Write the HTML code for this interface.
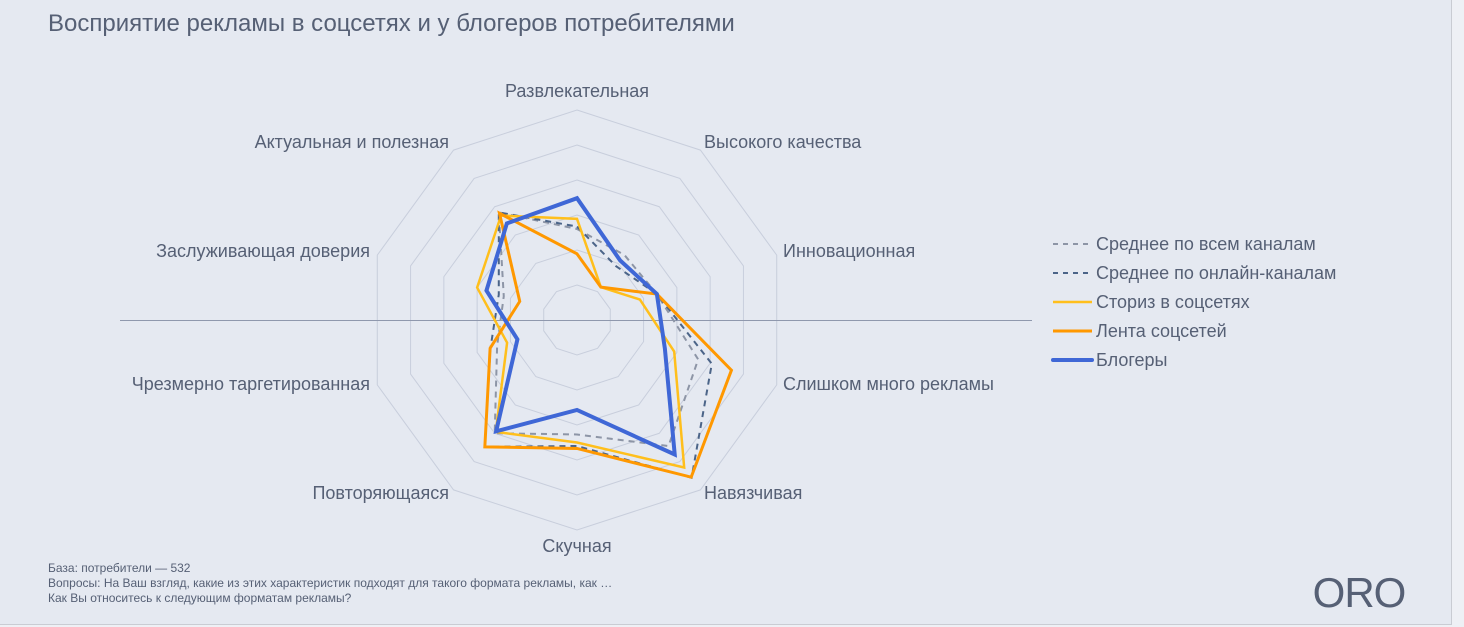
<!DOCTYPE html>
<html><head><meta charset="utf-8"><style>
html,body{margin:0;padding:0;}
body{width:1464px;height:627px;background:#eef0f5;font-family:"Liberation Sans",sans-serif;overflow:hidden;position:relative;}
#panel{position:absolute;left:0;top:0;width:1451px;height:624px;background:#e5e9f1;border-right:1px solid #c9ccd3;border-bottom:1px solid #c9ccd3;}
</style></head><body>
<div id="panel">
<svg id="chart" width="1464" height="627" style="position:absolute;left:0;top:0">
<text x="48" y="31" font-size="24" fill="#566075">Восприятие рекламы в соцсетях и у блогеров потребителями</text>
<g id="grid"></g>
<line x1="120" y1="320.5" x2="1032" y2="320.5" stroke="#8f98ad" stroke-width="1"/>
<g id="series"></g>
<g id="labels"></g>
<g id="legend"></g>
<text x="48" y="572" font-size="12" fill="#566075">База: потребители — 532</text>
<text x="48" y="587" font-size="12" fill="#566075">Вопросы: На Ваш взгляд, какие из этих характеристик подходят для такого формата рекламы, как …</text>
<text x="48" y="602" font-size="12" fill="#566075">Как Вы относитесь к следующим форматам рекламы?</text>
<text x="1359" y="607" font-size="42" fill="#566075" text-anchor="middle" letter-spacing="-1">ORO</text>
</svg>
</div>
<script>
const categories=["Развлекательная","Высокого качества","Инновационная","Слишком много рекламы","Навязчивая","Скучная","Повторяющаяся","Чрезмерно таргетированная","Заслуживающая доверия","Актуальная и полезная"];
const seriesNames=["Среднее по всем каналам","Среднее по онлайн-каналам","Сториз в соцсетях","Лента соцсетей","Блогеры"];
const avgAll=[26,23,24,36.4,44.5,32.7,40,24,22,38];
const avgOnline=[26.7,19,24,40.5,55.7,36,44.8,26,23.5,38];
const stories=[28.9,11.6,18.9,29.2,52.1,35,39.5,21,30,36.9];
const feed=[18.9,11.6,24,46.4,55.5,36.7,44.8,26.1,17.2,37.7];
const bloggers=[34.8,21,24,26.4,47.5,25.7,39.3,17.9,27.2,34.1];
const ringValues=[10,20,30,40,50,60];
const cx=577,cy=320,scale=3.5;
const NS="http://www.w3.org/2000/svg";
function pt(i,v){const a=i*2*Math.PI/categories.length;return [cx+Math.sin(a)*v*scale,cy-Math.cos(a)*v*scale];}
function mk(t,attrs,parent){const e=document.createElementNS(NS,t);for(const k in attrs)e.setAttribute(k,attrs[k]);parent.appendChild(e);return e;}
const grid=document.getElementById('grid');
ringValues.forEach(r=>{
  const p=categories.map((c,i)=>pt(i,r).join(',')).join(' ');
  const e=mk('polygon',{points:p,fill:'none',stroke:'#c8cedc','stroke-width':1},grid);
  
  
});
const styles=[
 {d:avgAll,c:'#8d95a6',w:2,dash:'6 5'},
 {d:avgOnline,c:'#4b6488',w:2,dash:'6 5'},
 {d:stories,c:'#ffbf1c',w:2.5,dash:''},
 {d:feed,c:'#ff9800',w:3,dash:''},
 {d:bloggers,c:'#3f67d6',w:4,dash:''}];
const sg=document.getElementById('series');
const snames=['series-avg-all','series-avg-online','series-stories','series-feed','series-bloggers'];
styles.forEach((s,k)=>{
  const p=s.d.map((v,i)=>pt(i,v).join(',')).join(' ');
  const e=mk('polygon',{points:p,fill:'none',stroke:s.c,'stroke-width':s.w,'stroke-dasharray':s.dash,'stroke-linejoin':'miter'},sg);
  
  
});
const lg=document.getElementById('labels');
const lpos=[[577,97,'middle'],[704,148,'start'],[783,257,'start'],[783,390,'start'],[704,499,'start'],[577,552,'middle'],[449,499,'end'],[370,390,'end'],[370,257,'end'],[449,148,'end']];
categories.forEach((c,i)=>{
  const e=mk('text',{x:lpos[i][0],y:lpos[i][1],'text-anchor':lpos[i][2],'font-size':18,fill:'#566075'},lg);
  e.textContent=c;
  
  
});
const leg=document.getElementById('legend');
seriesNames.forEach((n,k)=>{
  const y=244+k*29;
  const g=mk('g',{},leg);
  
  
  mk('line',{x1:1053,y1:y,x2:1092,y2:y,stroke:styles[k].c,'stroke-width':styles[k].w,'stroke-dasharray':styles[k].dash?'5 5':'','stroke-linecap':k==4?'round':'butt'},g);
  const t=mk('text',{x:1096,y:y+6,'font-size':18,fill:'#566075'},g);
  t.textContent=n;
});
</script>
</body></html>
